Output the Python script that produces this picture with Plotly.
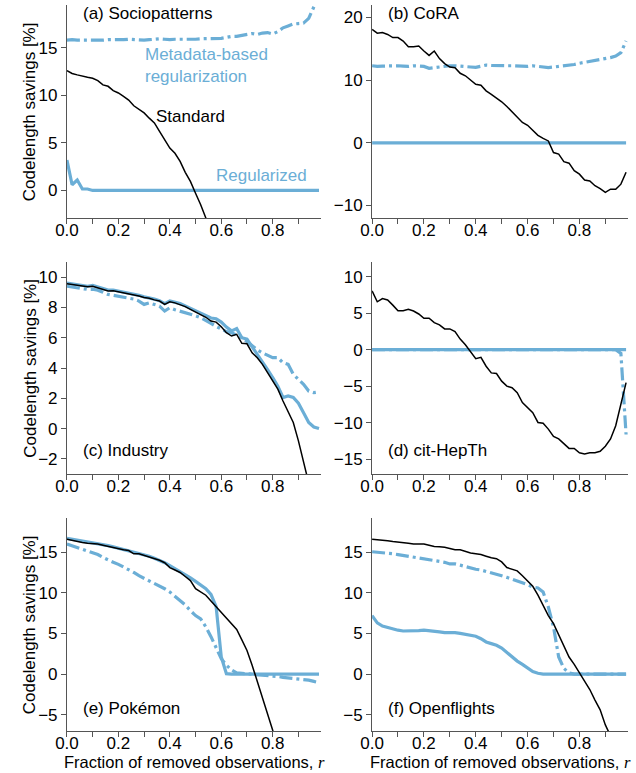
import plotly.graph_objects as go

# fraction of removed observations
r = [round(0.02 * i, 2) for i in range(50)]

# (a) Sociopatterns
a_std = [12.6, 12.3, 12.15, 12.0, 11.9, 11.8, 11.55, 11.1, 10.95, 10.5, 10.25, 9.9, 9.5, 8.9, 8.55,
         8.15, 7.6, 7.1, 6.2, 5.3, 4.45, 3.9, 3.05, 1.9, 0.95, -0.3, -1.5, -2.9, -4.2, -5.6]
a_meta = [15.8, 15.85, 15.8, 15.8, 15.75, 15.8, 15.8, 15.8, 15.85, 15.85, 15.8, 15.85, 15.9, 15.85, 15.8,
          15.8, 15.85, 15.9, 15.95, 15.9, 15.85, 15.9, 15.9, 15.85, 15.85, 15.9, 15.95, 15.95, 16.0, 15.95,
          16.0, 16.1, 16.2, 16.2, 16.3, 16.4, 16.5, 16.4, 16.55, 16.6, 16.45, 16.7, 17.1, 17.3, 17.5,
          17.55, 17.6, 18.1, 19.2, 20.5]
a_reg = [3.2, 0.6, 1.1, 0.15, 0.15] + [0.0] * 45

# (b) CoRA
b_std = [18.1, 17.5, 17.6, 17.3, 16.8, 16.8, 16.25, 15.35, 15.35, 15.45, 14.65, 13.95, 14.65, 13.45, 12.65,
         12.1, 12.0, 11.1, 10.7, 10.05, 9.35, 9.2, 8.3, 7.75, 7.2, 6.55, 5.8, 5.0, 4.2, 3.25,
         2.8, 2.05, 1.2, 0.7, 0.3, -1.55, -1.8, -3.0, -3.25, -4.45, -5.0, -5.95, -6.1, -6.85, -7.3,
         -7.9, -7.4, -7.4, -6.6, -4.7]
b_meta = [12.3, 12.2, 12.25, 12.3, 12.35, 12.3, 12.25, 12.2, 12.3, 12.25, 12.2, 11.9, 12.0, 12.2, 12.3,
          12.3, 12.3, 12.2, 12.2, 12.1, 12.05, 12.2, 12.4, 12.35, 12.3, 12.3, 12.3, 12.3, 12.25, 12.2,
          12.2, 12.3, 12.2, 12.1, 12.0, 12.1, 12.2, 12.25, 12.3, 12.5, 12.7, 12.85, 13.0, 13.05, 13.2,
          13.4, 13.6, 13.85, 14.4, 16.25]
b_reg = [0.0] * 50

# (c) Industry
c_std = [9.56, 9.5, 9.45, 9.4, 9.36, 9.4, 9.3, 9.2, 9.08, 9.1, 9.03, 8.98, 8.92, 8.85, 8.75,
         8.65, 8.6, 8.5, 8.42, 8.2, 8.37, 8.3, 8.2, 8.05, 7.87, 7.7, 7.54, 7.35, 7.1, 7.03,
         6.72, 6.33, 6.11, 6.22, 5.63, 5.6, 5.0, 4.68, 4.24, 3.69, 3.14, 2.6, 1.82, 1.16, 0.4,
         -0.81, -2.24, -3.6]
c_reg = [9.6, 9.55, 9.5, 9.45, 9.4, 9.45, 9.35, 9.25, 9.15, 9.15, 9.08, 9.02, 8.98, 8.9, 8.8,
         8.7, 8.65, 8.55, 8.45, 8.25, 8.42, 8.35, 8.25, 8.1, 7.95, 7.78, 7.62, 7.45, 7.3, 7.25,
         7.03, 6.7, 6.45, 6.6, 6.0, 5.9, 5.4, 4.95, 4.46, 3.9, 3.36, 2.8, 2.05, 2.15, 2.05,
         1.67, 1.05, 0.4, 0.1, 0.0]
c_meta = [9.4, 9.35, 9.3, 9.25, 9.19, 9.2, 9.14, 9.0, 8.86, 8.8, 8.75, 8.7, 8.64, 8.55, 8.42,
          8.2, 8.3, 8.2, 8.09, 7.76, 7.98, 7.85, 7.76, 7.65, 7.54, 7.45, 7.32, 7.15, 6.95, 6.75,
          6.55, 6.4, 6.33, 6.15, 6.0, 5.75, 5.45, 5.2, 5.0, 4.85, 4.68, 4.68, 4.35, 4.24, 3.58,
          3.25, 2.92, 2.48, 2.37, 2.42]

# (d) cit-HepTh
d_std = [8.05, 6.56, 7.0, 6.8, 6.1, 5.34, 5.34, 5.52, 5.3, 4.89, 4.3, 4.3, 3.71, 3.4, 2.85,
         2.85, 2.49, 1.45, 0.68, -0.23, -1.22, -1.04, -2.26, -3.17, -3.26, -4.3, -4.98, -5.2, -5.88, -7.24,
         -7.92, -8.6, -9.95, -10.05, -10.86, -11.86, -12.2, -12.9, -13.5, -13.5, -14.1, -14.25, -14.1, -14.1, -13.9,
         -13.2, -12.2, -10.4, -7.5, -4.5]
d_meta = [0.0] * 48 + [-0.5, -11.6]
d_reg = [0.0] * 50

# (e) Pokémon
e_std = [16.6, 16.45, 16.3, 16.2, 16.1, 16.05, 16.0, 15.85, 15.7, 15.55, 15.4, 15.3, 15.2, 14.8, 14.8,
         14.6, 14.4, 14.2, 14.0, 13.7, 13.1, 12.8, 12.5, 12.0, 11.5, 10.5, 10.1, 9.7, 9.0, 8.3,
         7.6, 7.0, 6.3, 5.5, 4.2, 2.9, 1.1, -0.94, -3.0, -4.8, -6.9, -8.5]
e_reg = [16.7, 16.6, 16.5, 16.35, 16.2, 16.1, 16.0, 15.9, 15.8, 15.65, 15.5, 15.35, 15.2, 15.05, 14.9,
         14.7, 14.5, 14.25, 14.0, 13.7, 13.35, 13.0, 12.65, 12.25, 11.85, 11.4, 10.9, 10.5, 9.8, 8.3,
         2.1, 0.05] + [0.0] * 18
e_meta = [16.0, 15.8, 15.5, 15.3, 15.1, 14.9, 14.7, 14.35, 14.0, 13.75, 13.5, 13.2, 12.85, 12.5, 12.1,
          11.8, 11.5, 11.2, 10.9, 10.5, 10.1, 9.6, 9.1, 8.5, 7.8, 7.2, 6.8, 5.8, 4.6, 3.35,
          1.9, 1.1, 0.5, 0.15, 0.1, 0.1, 0.05, 0.0, -0.1, -0.15, -0.25, -0.3, -0.4, -0.45, -0.55,
          -0.6, -0.65, -0.75, -0.9, -1.05]

# (f) Openflights
f_std = [16.6, 16.55, 16.5, 16.4, 16.3, 16.25, 16.2, 16.1, 16.0, 16.0, 16.0, 15.85, 15.7, 15.65, 15.6,
         15.45, 15.3, 15.3, 15.1, 14.9, 14.8, 14.7, 14.5, 14.3, 14.2, 13.8, 13.1, 12.9, 12.7, 12.1,
         11.5, 10.8, 9.7, 8.45, 7.2, 6.2, 4.8, 3.35, 2.1, 1.2, 0.2, -0.94, -1.9, -3.2, -4.4,
         -6.25, -7.6]
f_meta = [15.05, 15.0, 15.0, 14.9, 14.8, 14.7, 14.6, 14.5, 14.4, 14.3, 14.2, 14.1, 14.0, 13.9, 13.75,
          13.55, 13.55, 13.4, 13.2, 13.05, 12.9, 12.8, 12.65, 12.5, 12.3, 12.1, 11.9, 11.7, 11.5, 11.25,
          11.0, 10.7, 10.6, 10.1, 8.25, 5.8, 2.1, 0.7, 0.15, 0.0] + [0.0] * 10
f_reg = [7.2, 6.3, 5.9, 5.7, 5.5, 5.4, 5.3, 5.3, 5.3, 5.35, 5.4, 5.35, 5.3, 5.2, 5.1,
         5.1, 5.1, 5.0, 4.85, 4.8, 4.65, 4.35, 3.95, 3.75, 3.55, 3.2, 2.65, 2.1, 1.6, 1.2,
         0.7, 0.3, 0.1, 0.0] + [0.0] * 16

labels = ["(a) Sociopatterns", "(b) CoRA", "(c) Industry", "(d) cit-HepTh", "(e) Pokémon", "(f) Openflights"]
label_y = [18.6, 20.7, -1.47, -13.8, -4.2, -4.2]
y_ranges = [[-2.9, 19.5], [-12, 22], [-3, 11], [-17, 12], [-7, 19.2], [-7, 19.2]]
y_ticks = [[0, 5, 10, 15], [-10, 0, 10, 20], [-2, 0, 2, 4, 6, 8, 10], [-15, -10, -5, 0, 5, 10],
           [-5, 0, 5, 10, 15], [-5, 0, 5, 10, 15]]
x_ticks = [0.0, 0.1, 0.2, 0.3, 0.4, 0.5, 0.6, 0.7, 0.8, 0.9]
x_ticktext = ["0.0", "", "0.2", "", "0.4", "", "0.6", "", "0.8", ""]

series = [(a_meta, a_reg, a_std), (b_meta, b_reg, b_std), (c_meta, c_reg, c_std),
          (d_meta, d_reg, d_std), (e_meta, e_reg, e_std), (f_meta, f_reg, f_std)]

BLUE = "#6baed6"
FONT = "Liberation Sans, Arial, sans-serif"
W, H = 636, 773
col_px = [(56, 315), (367, 628)]
row_px = [(5, 218), (262, 474), (518, 731)]

fig = go.Figure()
layout = dict(width=W, height=H, margin=dict(l=0, r=0, t=0, b=0),
              plot_bgcolor="white", paper_bgcolor="white", showlegend=False,
              font=dict(family=FONT, size=17, color="black"))
annotations = []

for i in range(6):
    row, col = i // 2, i % 2
    xs = "" if i == 0 else str(i + 1)
    xref, yref = "x" + xs, "y" + xs
    meta, reg, std = series[i]
    fig.add_trace(go.Scatter(x=r[:len(meta)], y=meta, mode="lines", xaxis=xref, yaxis=yref,
                             line=dict(color=BLUE, width=3.2, dash="13px,4px,3px,4px")))
    fig.add_trace(go.Scatter(x=r[:len(reg)], y=reg, mode="lines", xaxis=xref, yaxis=yref,
                             line=dict(color=BLUE, width=3.2)))
    fig.add_trace(go.Scatter(x=r[:len(std)], y=std, mode="lines", xaxis=xref, yaxis=yref,
                             line=dict(color="black", width=1.5)))
    x0, x1 = col_px[col]
    y0, y1 = row_px[row]
    axcommon = dict(showline=True, linecolor="#555", linewidth=1, ticks="outside", ticklen=5,
                    tickcolor="#555", tickwidth=1, showgrid=False, zeroline=False,
                    tickfont=dict(family=FONT, size=17, color="black"))
    layout["xaxis" + xs] = dict(domain=[x0 / W, x1 / W], anchor=yref, range=[0, 0.988],
                                tickvals=x_ticks, ticktext=x_ticktext, ticklabelstandoff=-8,
                                **axcommon)
    layout["yaxis" + xs] = dict(domain=[1 - y1 / H, 1 - y0 / H], anchor=xref, range=y_ranges[i],
                                tickvals=y_ticks[i], **axcommon)
    annotations.append(dict(x=0.053, y=label_y[i], xref=xref, yref=yref, text=labels[i],
                            showarrow=False, xanchor="left", yanchor="middle",
                            font=dict(family=FONT, size=17, color="black")))
    if col == 0:
        annotations.append(dict(x=18 / W, y=1 - (y0 + y1) / 2 / H, xref="paper", yref="paper",
                                text="Codelength savings [%]", textangle=-90, showarrow=False,
                                xanchor="center", yanchor="middle",
                                font=dict(family=FONT, size=17, color="black")))
    if row == 2:
        annotations.append(dict(x=(x0 + x1) / 2 / W, y=0, xref="paper", yref="paper",
                                text="Fraction of removed observations, <span style=\"font-family:'Liberation Serif'\"><i>r</i></span>",
                                showarrow=False, xanchor="center", yanchor="bottom", borderpad=0,
                                font=dict(family=FONT, size=16.5, color="black")))

# in-panel series labels for (a)
annotations.append(dict(x=0.48, y=7.8, xref="x", yref="y", text="Standard", showarrow=False,
                        xanchor="center", yanchor="middle", font=dict(family=FONT, size=17, color="black")))
annotations.append(dict(x=0.297, y=13.1, xref="x", yref="y", text="Metadata-based<br>regularization",
                        showarrow=False, xanchor="left", yanchor="middle", align="left",
                        font=dict(family=FONT, size=17, color=BLUE)))
annotations.append(dict(x=0.573, y=1.58, xref="x", yref="y", text="Regularized", showarrow=False,
                        xanchor="left", yanchor="middle", font=dict(family=FONT, size=17, color=BLUE)))

layout["annotations"] = annotations
fig.update_layout(**layout)
fig.write_html("out.html")
